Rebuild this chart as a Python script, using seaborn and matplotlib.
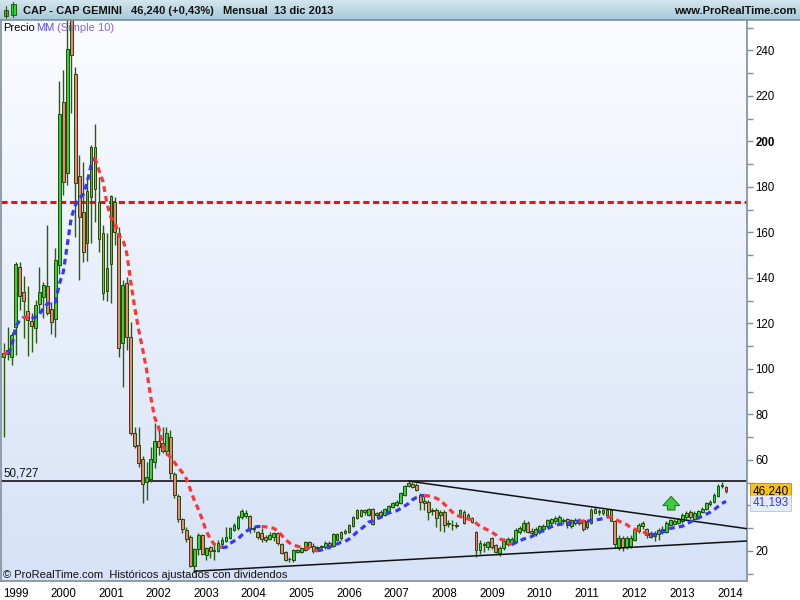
import matplotlib
matplotlib.use("Agg")
import matplotlib.pyplot as plt
import matplotlib.transforms as mtransforms
from matplotlib.colors import LinearSegmentedColormap
from matplotlib.patches import Rectangle
import numpy as np
import pandas as pd
import seaborn as sns

# month index: 0 = Jan 1999, first visible candle = Oct 1998 (-3)
FIRST_MONTH = -3

opens = [
    105.3, 108.3, 105.4,
    118.6, 144.7, 133.7, 125.5, 121.1, 118.1, 128.6, 131.8, 136.5, 126.2, 121.8, 145.7,
    217.5, 186.0, 256.0, 229.5, 184.8, 169.0, 155.5, 175.7, 197.7, 173.5, 159.6, 134.4,
    146.0, 173.5, 159.6, 111.5, 137.7, 114.2, 72.0, 66.6, 60.3, 50.5, 51.5, 59.2,
    68.3, 67.3, 64.1, 70.2, 53.7, 44.2, 33.9, 29.2, 26.0, 13.5, 20.7, 27.0,
    18.2, 21.9, 20.1, 20.1, 23.1, 24.5, 25.6, 29.2, 30.0, 35.0, 35.4, 35.4,
    29.6, 28.2, 28.0, 26.3, 25.1, 26.3, 28.0, 23.1, 19.7, 16.6, 16.0, 19.7,
    19.7, 20.4, 24.1, 22.2, 21.4, 21.6, 21.6, 23.6, 22.2, 24.8, 25.6, 28.9,
    28.5, 31.0, 34.4, 38.0, 37.3, 35.8, 38.3, 35.8, 37.3, 35.8, 37.7, 39.5,
    40.2, 41.0, 44.6, 48.6, 49.5, 49.1, 44.6, 42.1, 41.7, 37.7, 38.0, 35.8,
    37.3, 32.0, 31.6, 31.6, 35.8, 37.3, 33.9, 34.4, 28.5, 20.4, 23.0, 21.6,
    25.6, 22.6, 19.0, 21.2, 23.1, 23.6, 24.1, 28.5, 29.2, 32.2, 28.8, 27.5,
    28.5, 29.5, 31.0, 32.5, 33.0, 32.5, 33.5, 34.0, 31.0, 33.8, 32.5, 33.6,
    30.5, 32.5, 38.6, 37.5, 38.0, 36.0, 38.0, 33.3, 21.5, 25.5, 21.8, 22.0,
    25.0, 29.0, 31.0, 29.5, 28.0, 26.5, 27.5, 28.5, 28.5, 31.5, 32.0, 32.5,
    33.3, 34.8, 37.3, 34.0, 35.4, 37.0, 38.3, 40.5, 41.7, 44.2, 48.6, 48.0,
]
highs = [
    111.3, 118.6, 116.4,
    147.2, 147.2, 140.9, 136.5, 124.5, 130.3, 145.0, 138.2, 163.3, 129.6, 153.0, 226.7,
    231.4, 258.0, 265.0, 232.9, 194.1, 191.1, 184.5, 198.4, 207.7, 184.5, 163.3, 159.6,
    176.5, 175.7, 162.5, 139.1, 140.3, 120.8, 74.6, 74.6, 61.7, 59.2, 65.8, 76.1,
    74.6, 74.6, 74.6, 73.2, 54.7, 45.0, 34.5, 30.7, 27.0, 21.2, 27.8, 27.5,
    21.9, 22.2, 23.3, 24.8, 26.3, 30.7, 30.7, 32.2, 36.0, 38.6, 38.0, 36.0,
    31.0, 28.9, 30.0, 27.0, 28.5, 28.5, 28.5, 23.4, 20.1, 17.5, 20.7, 21.0,
    21.8, 24.5, 24.6, 23.3, 22.4, 22.8, 24.2, 24.2, 28.0, 28.0, 29.0, 29.5,
    31.8, 35.3, 38.5, 38.6, 38.4, 38.8, 38.8, 37.3, 37.8, 38.8, 40.3, 41.7,
    42.2, 45.8, 49.0, 50.727, 50.2, 49.8, 45.5, 44.0, 42.4, 39.0, 38.9, 38.0,
    38.0, 33.5, 33.5, 32.8, 38.5, 38.0, 36.5, 35.0, 29.0, 25.0, 24.1, 24.5,
    26.0, 23.0, 22.0, 25.5, 26.0, 26.0, 30.0, 31.0, 33.5, 33.0, 30.0, 30.5,
    31.5, 32.0, 34.0, 34.5, 35.5, 36.0, 34.5, 34.5, 34.0, 34.5, 34.5, 34.2,
    33.5, 38.8, 39.5, 38.5, 38.5, 38.5, 38.5, 33.5, 27.0, 26.5, 26.5, 27.0,
    30.0, 32.5, 33.0, 30.0, 29.0, 29.0, 30.0, 31.0, 33.0, 34.0, 34.0, 34.5,
    36.5, 37.5, 38.0, 37.5, 38.0, 39.5, 41.5, 42.5, 45.5, 49.5, 50.2, 48.5,
]
lows = [
    70.2, 104.0, 101.8,
    106.1, 125.9, 113.5, 105.7, 107.6, 111.3, 124.5, 122.3, 123.7, 115.4, 113.9, 141.7,
    176.5, 180.9, 212.7, 158.1, 139.1, 147.2, 147.6, 155.2, 164.7, 151.5, 130.3, 130.0,
    129.1, 154.5, 105.4, 92.2, 108.3, 71.0, 65.1, 57.1, 41.2, 42.4, 50.5, 56.3,
    62.2, 62.9, 62.2, 51.5, 43.1, 32.9, 28.0, 24.1, 13.0, 10.9, 18.2, 18.2,
    16.0, 16.8, 16.0, 19.7, 21.6, 24.1, 25.1, 28.9, 29.2, 34.0, 34.5, 28.0,
    28.5, 25.1, 24.1, 24.1, 24.8, 24.5, 22.6, 18.7, 15.7, 15.3, 15.3, 19.0,
    19.0, 20.0, 21.2, 19.0, 20.6, 21.0, 21.0, 21.0, 21.6, 24.2, 25.0, 27.5,
    28.0, 30.5, 34.0, 35.0, 36.0, 35.2, 31.5, 35.0, 35.0, 35.2, 37.2, 39.0,
    39.7, 40.5, 44.0, 48.0, 47.5, 46.3, 38.0, 38.0, 33.6, 36.0, 30.7, 29.0,
    28.5, 30.5, 29.3, 30.0, 35.0, 31.8, 33.5, 32.5, 17.5, 18.5, 19.7, 20.5,
    21.0, 19.0, 18.0, 20.5, 22.0, 22.6, 23.5, 27.5, 28.5, 28.0, 26.5, 26.5,
    27.5, 28.5, 30.0, 31.5, 32.0, 32.0, 32.0, 30.0, 30.0, 31.5, 31.5, 29.0,
    29.5, 32.0, 36.5, 36.0, 36.0, 35.5, 33.0, 21.5, 20.5, 20.0, 20.8, 21.5,
    24.5, 28.0, 29.5, 25.5, 25.5, 24.5, 25.0, 27.5, 28.0, 31.0, 31.5, 32.0,
    32.5, 34.0, 34.0, 33.5, 35.0, 36.5, 38.0, 39.8, 41.0, 43.8, 47.5, 45.5,
]
closes = [
    107.0, 106.6, 114.9,
    146.1, 132.2, 130.0, 121.5, 119.0, 128.0, 133.7, 136.8, 124.5, 120.8, 147.8, 212.1,
    182.3, 240.5, 238.0, 181.6, 166.7, 151.6, 178.1, 197.7, 179.0, 157.0, 133.5, 144.3,
    176.0, 160.1, 109.1, 136.9, 114.2, 72.0, 66.3, 58.8, 49.3, 52.7, 60.3, 68.3,
    65.8, 64.1, 71.7, 54.4, 44.6, 33.9, 29.5, 25.1, 13.4, 20.7, 27.0, 18.7,
    21.2, 20.1, 20.6, 23.6, 24.8, 26.3, 30.0, 31.4, 35.0, 37.5, 36.8, 29.6,
    30.0, 26.0, 25.1, 24.8, 27.0, 28.0, 23.4, 19.3, 16.0, 16.4, 20.4, 20.4,
    21.2, 24.1, 21.6, 20.1, 21.6, 22.2, 23.6, 21.6, 27.5, 27.5, 28.5, 28.0,
    31.4, 34.8, 38.0, 35.4, 38.0, 38.3, 31.9, 36.8, 35.4, 38.3, 39.8, 41.2,
    41.7, 45.4, 48.6, 49.8, 48.3, 46.8, 41.7, 41.2, 37.3, 38.0, 34.4, 37.3,
    31.4, 32.2, 31.4, 31.2, 38.0, 32.2, 35.8, 32.9, 20.4, 23.5, 22.6, 24.1,
    21.9, 19.7, 21.2, 24.5, 25.1, 25.1, 29.2, 30.0, 32.2, 28.5, 27.8, 29.5,
    31.0, 31.2, 33.5, 34.0, 34.5, 35.0, 33.0, 31.5, 33.5, 32.2, 33.8, 29.8,
    33.0, 38.0, 36.8, 37.2, 36.8, 38.0, 33.3, 23.0, 25.5, 21.8, 25.5, 25.5,
    29.5, 31.5, 32.5, 27.0, 26.2, 28.0, 29.2, 29.5, 32.2, 33.5, 33.3, 34.2,
    35.8, 36.8, 34.8, 36.8, 37.5, 38.5, 40.9, 41.5, 44.5, 48.6, 49.0, 46.24,
]

years = list(range(1999, 2015))
price_ticks = [20, 40, 60, 80, 100, 120, 140, 160, 180, 200, 220, 240]
price_minor = [10, 30, 50, 70, 90, 110, 130, 150, 170, 190, 210, 230, 250]

resistance = 173.5
level_2007 = 50.727
upper_trend_x, upper_trend_y = [99, 184.3], [50.727, 29.8]
lower_trend_x, lower_trend_y = [45, 184.3], [11.1, 24.4]
arrow_month, arrow_from, arrow_to = 165.2, 38.0, 44.0
last_price, last_ma = 46.24, 41.193

GREEN, RED = "#33d433", "#ef8470"
EDGE, WICK = "#24480c", "#2c5a10"
AXIS_GREY = "#7d8e9c"

sns.set_style("white")
plt.rcParams["font.family"] = ["Liberation Sans", "DejaVu Sans"]

df = pd.DataFrame({"o": opens, "h": highs, "l": lows, "c": closes})
df["p"] = np.arange(len(df)) + FIRST_MONTH
df["ma"] = df["c"].rolling(10, min_periods=1).mean()

fig = plt.figure(figsize=(8, 6), dpi=100)
fig.patch.set_facecolor("white")
ax = fig.add_axes([1 / 800, 19 / 600, 746 / 800, 561 / 600])
xlim = (-3.70, 184.3)
ylim = (6.81, 253.4)

bg = LinearSegmentedColormap.from_list("bg", ["#fbfcff", "#d6e2f7"])
ax.imshow(np.linspace(0, 1, 256).reshape(-1, 1), cmap=bg, aspect="auto",
          extent=[xlim[0], xlim[1], ylim[0], ylim[1]], origin="upper", zorder=0)

# reference levels
ax.axhline(resistance, color="#ee1111", lw=2.2, ls=(0, (2.0, 1.2)), zorder=1.5)
ax.axhline(level_2007, color="black", lw=1.1, zorder=1.5)
ax.plot(upper_trend_x, upper_trend_y, color="#111111", lw=1.1, zorder=4)
ax.plot(lower_trend_x, lower_trend_y, color="#111111", lw=1.1, zorder=4)

# candles
bull = df["c"] >= df["o"]
body_lo = np.minimum(df["o"], df["c"])
body_h = np.maximum((df["c"] - df["o"]).abs(), 0.2)
ax.vlines(df["p"], df["l"], df["h"], colors=WICK, lw=1, zorder=2)
ax.bar(df["p"], body_h, bottom=body_lo, width=0.7,
       color=np.where(bull, GREEN, RED), edgecolor=EDGE, lw=0.7, zorder=3)

# moving average, blue when rising and red when falling
up = df["ma"].diff().fillna(0) >= 0
run_id = (up != up.shift()).cumsum()
parts = []
for rid, idx in df.groupby(run_id).groups.items():
    idx = list(idx)
    seg = df.loc[max(idx[0] - 1, 0):idx[-1], ["p", "ma"]].copy()
    seg["run"] = rid
    seg["dir"] = "up" if up[idx[-1]] else "down"
    parts.append(seg)
ma_df = pd.concat(parts, ignore_index=True)
sns.lineplot(data=ma_df, x="p", y="ma", hue="dir", units="run", estimator=None,
             palette={"up": "#3636ff", "down": "#ff3434"}, lw=2.3,
             linestyle=(0, (1.8, 1.3)), legend=False, ax=ax, zorder=4)

ax.annotate("", xy=(arrow_month, arrow_to), xytext=(arrow_month, arrow_from),
            arrowprops=dict(arrowstyle="simple,head_length=0.55,head_width=1.0,tail_width=0.45",
                            fc="#3ccf3c", ec="#2a7a1a", lw=0.8, shrinkA=0, shrinkB=0,
                            mutation_scale=12), zorder=5)

ax.set_xlim(*xlim)
ax.set_ylim(*ylim)

# axes styling
ax.yaxis.tick_right()
ax.set_yticks(price_ticks)
ax.set_yticklabels(["" if v == 40 else str(v) for v in price_ticks])
ax.set_yticks(price_minor, minor=True)
for lbl in ax.get_yticklabels():
    if lbl.get_text() == "200":
        lbl.set_fontweight("bold")
ax.tick_params(axis="y", which="both", direction="out", length=4, width=1,
               colors=AXIS_GREY, labelcolor="black", labelsize=8.3, pad=2)
ax.set_xticks([(y - 1999) * 12 for y in years])
ax.set_xticklabels([str(y) for y in years])
ax.tick_params(axis="x", direction="out", length=4, width=1, colors=AXIS_GREY,
               labelcolor="black", labelsize=8.3, pad=1)
ax.set_xlabel("")
ax.set_ylabel("")
for side in ["left", "right", "bottom"]:
    ax.spines[side].set_color(AXIS_GREY)
    ax.spines[side].set_linewidth(1.2)
ax.spines["top"].set_visible(False)

yblend = mtransforms.blended_transform_factory(ax.transAxes, ax.transData)
ax.text(0.004, level_2007 + 0.6, "50,727", transform=yblend, va="bottom", ha="left",
        fontsize=8.3, color="#111111")
ax.text(1.0075, last_price, f"{last_price:.3f}".replace(".", ","), transform=yblend,
        va="center", ha="left", fontsize=8.5, color="black", clip_on=False,
        bbox=dict(boxstyle="square,pad=0.18", fc="#f7c21a", ec="#b08a10", lw=0.6))
ax.text(1.0075, last_ma, f"{last_ma:.3f}".replace(".", ","), transform=yblend,
        va="center", ha="left", fontsize=8.5, color="#3a3aff", clip_on=False,
        bbox=dict(boxstyle="square,pad=0.18", fc="#e4ecfb", ec="#b8c4dc", lw=0.6))

# header band and overlay texts, in pixel coordinates
ov = fig.add_axes([0, 0, 1, 1])
ov.set_xlim(0, 800)
ov.set_ylim(600, 0)
ov.axis("off")
ov.patch.set_visible(False)
hdr = LinearSegmentedColormap.from_list("hdr", ["#d2e6ee", "#a8c8d8"])
ov.imshow(np.linspace(0, 1, 64).reshape(-1, 1), cmap=hdr, aspect="auto",
          extent=[0, 800, 20, 0], origin="upper", zorder=0)
ov.plot([0, 800], [20, 20], color="#7890a0", lw=1.2)
ov.set_xlim(0, 800)
ov.set_ylim(600, 0)
# small candle icon
ov.plot([5.8, 5.8], [6, 18], color=WICK, lw=0.8)
ov.add_patch(Rectangle((3.5, 10), 4.6, 6, fc="#ef5a50", ec=EDGE, lw=0.6))
ov.plot([13.3, 13.3], [2, 17], color=WICK, lw=0.8)
ov.add_patch(Rectangle((11, 4), 4.6, 10.5, fc="#33d433", ec=EDGE, lw=0.6))

hkw = dict(va="center", ha="left", fontsize=8, fontweight="bold", color="#111111")
ov.text(23, 10.5, "CAP - CAP GEMINI", **hkw)
ov.text(131, 10.5, "46,240 (+0,43%)", **hkw)
ov.text(223, 10.5, "Mensual  13 dic 2013", **hkw)
ov.text(796, 10.5, "www.ProRealTime.com", **{**hkw, "ha": "right"})

ov.text(3, 28, "Precio", va="center", ha="left", fontsize=8, color="black")
ov.text(36, 28, "MM", va="center", ha="left", fontsize=8, color="#5548ff")
ov.text(57, 28, "(Simple 10)", va="center", ha="left", fontsize=8, color="#8a64d8")
ov.text(3, 575.5, "\u00a9 ProRealTime.com  Hist\u00f3ricos ajustados con dividendos",
        va="center", ha="left", fontsize=8, color="#111111")

fig.savefig("out.png", dpi=100)
